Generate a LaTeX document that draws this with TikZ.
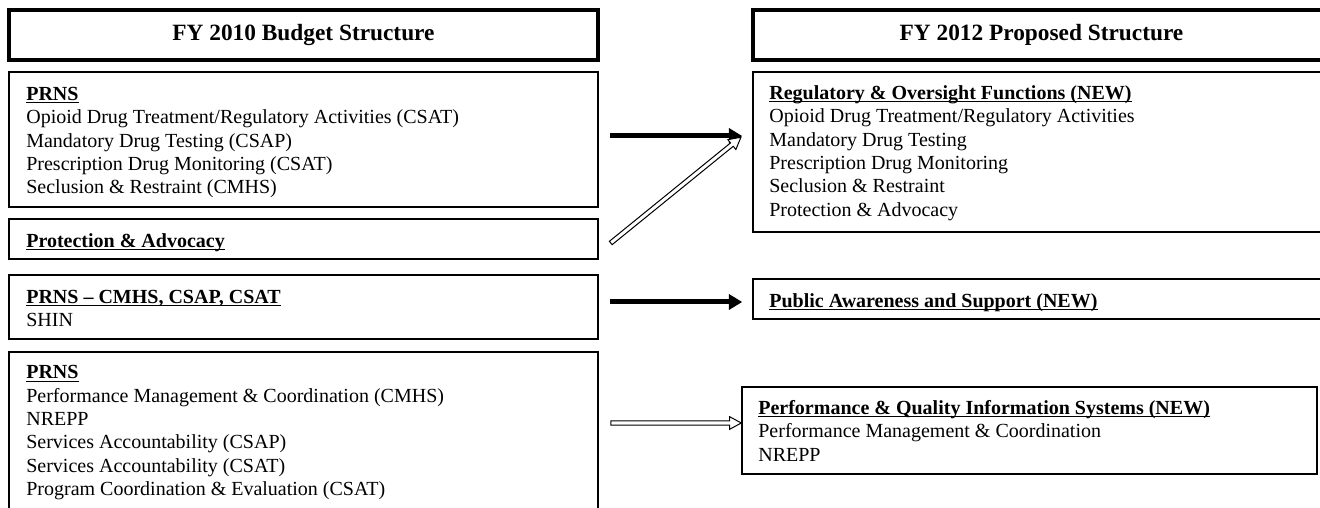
\documentclass[tikz,border=0pt]{standalone}
\usepackage{fontspec}
\setmainfont{Liberation Serif}
\usetikzlibrary{arrows.meta,fit,calc}
\tikzset{
  boxline/.style={draw, line width=0.9pt, inner sep=0pt},
  titlebox/.style={draw, line width=2pt, inner sep=0pt},
  titletext/.style={inner sep=0pt, font=\fontsize{14}{16}\selectfont\bfseries},
  body/.style={anchor=base west, inner sep=0pt, font=\fontsize{12}{14}\selectfont},
  bigarrow/.style={line width=3pt, -{Triangle[length=8pt,width=9pt]}},
  hollow/.style={draw, line width=0.6pt, fill=white, line join=miter},
}
\newcommand\ulb[1]{\underline{\smash{\textbf{#1}}}}
\newenvironment{lines}{\begin{tabular}[t]{@{}l@{}}}{\end{tabular}}
\newcommand\hollowarrow[2]{%
  \path let \p1=($(#2)-(#1)$), \n1={veclen(\x1,\y1)}, \n2={atan2(\y1,\x1)} in
    \pgfextra{\xdef\harlen{\n1}\xdef\harang{\n2}};
  \begin{scope}[shift={(#1)}, rotate=\harang]
    \draw[hollow] (0pt,-1.3pt) -- (\harlen-7pt,-1.3pt) -- (\harlen-7pt,-3.8pt) -- (\harlen,0pt)
      -- (\harlen-7pt,3.8pt) -- (\harlen-7pt,1.3pt) -- (0pt,1.3pt) -- cycle;
  \end{scope}}
\begin{document}
\begin{tikzpicture}[x=0.6pt,y=-0.6pt]
\useasboundingbox (0,0) rectangle (1320,508);
% titles
\node[titlebox, fit={(9,10)(598,60)}] (tL) {};
\node[titletext] (tLt) at (tL.center) {FY 2010 Budget Structure};
\node[titlebox, fit={(753,10)(1330,60)}] (tR) {};
\node[titletext] (tRt) at (tR.center) {FY 2012 Proposed Structure};
% left boxes
\node[boxline, fit={(9,72)(598,207)}] (b1) {};
\node[body] (b1t) at (26,100.5) {\begin{lines}\ulb{PRNS}\\Opioid Drug Treatment/Regulatory Activities (CSAT)\\Mandatory Drug Testing (CSAP)\\Prescription Drug Monitoring (CSAT)\\Seclusion \& Restraint (CMHS)\end{lines}};
\node[boxline, fit={(9,219)(598,259)}] (b2) {};
\node[body] (b2t) at (26,247.5) {\begin{lines}\ulb{Protection \& Advocacy}\end{lines}};
\node[boxline, fit={(9,275)(598,339)}] (b3) {};
\node[body] (b3t) at (26,303.5) {\begin{lines}\ulb{PRNS -- CMHS, CSAP, CSAT}\\SHIN\end{lines}};
\node[boxline, fit={(9,352)(598,520)}] (b4) {};
\node[body] (b4t) at (26,379) {\begin{lines}\ulb{PRNS}\\Performance Management \& Coordination (CMHS)\\NREPP\\Services Accountability (CSAP)\\Services Accountability (CSAT)\\Program Coordination \& Evaluation (CSAT)\end{lines}};
% right boxes
\node[boxline, fit={(753,72)(1330,232)}] (r1) {};
\node[body] (r1t) at (769,99.5) {\begin{lines}\ulb{Regulatory \& Oversight Functions (NEW)}\\Opioid Drug Treatment/Regulatory Activities\\Mandatory Drug Testing\\Prescription Drug Monitoring\\Seclusion \& Restraint\\Protection \& Advocacy\end{lines}};
\node[boxline, fit={(753,279)(1330,319)}] (r2) {};
\node[body] (r2t) at (769,307.5) {\begin{lines}\ulb{Public Awareness and Support (NEW)}\end{lines}};
\node[boxline, fit={(742,387)(1317,474)}] (r3) {};
\node[body] (r3t) at (758,414.5) {\begin{lines}\ulb{Performance \& Quality Information Systems (NEW)}\\Performance Management \& Coordination\\NREPP\end{lines}};
% arrows
\coordinate (a1s) at ($(b1.east |- 0,136)+(11,0)$);
\coordinate (a1e) at ($(r1.west |- 0,136)+(-10,0)$);
\draw[bigarrow] (a1s) -- (a1e);
\coordinate (a2s) at ($(b2.east)+(12,4)$);
\coordinate (a2e) at ($(r1.west |- 0,137)+(-11,0)$);
\hollowarrow{a2s}{a2e}
\coordinate (a3s) at ($(b3.east |- r2.west)+(11,3)$);
\coordinate (a3e) at ($(r2.west)+(-10,3)$);
\draw[bigarrow] (a3s) -- (a3e);
\coordinate (a4s) at ($(b4.east |- 0,423)+(12,0)$);
\coordinate (a4e) at (r3.west |- 0,423);
\hollowarrow{a4s}{a4e}
\end{tikzpicture}
\end{document}
